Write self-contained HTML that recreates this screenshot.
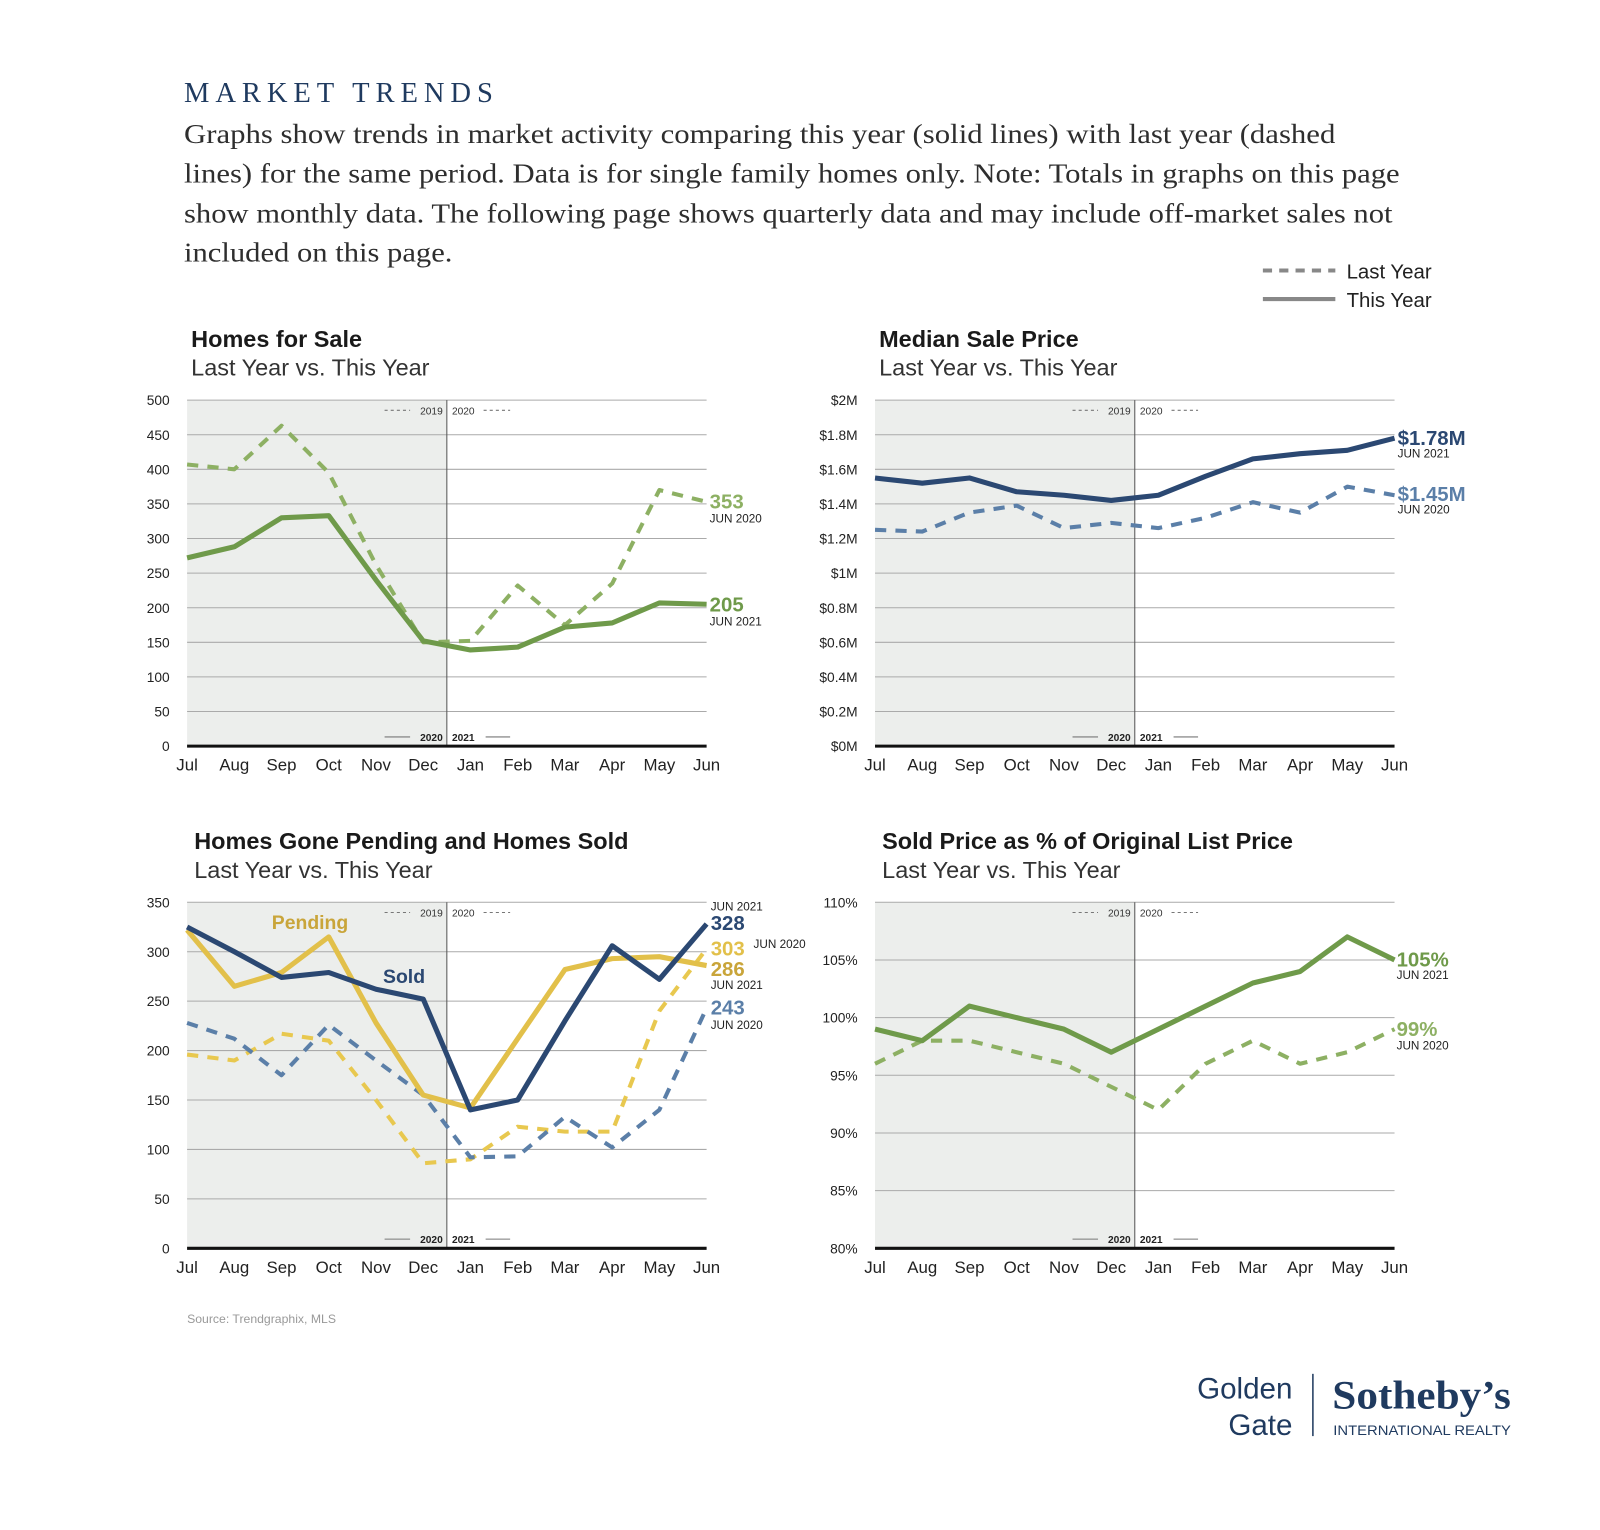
<!DOCTYPE html>
<html><head><meta charset="utf-8">
<style>
html,body{margin:0;padding:0;background:#fff;}
svg{display:block;}
text{font-family:"Liberation Sans",sans-serif;}
.serif{font-family:"Liberation Serif",serif;}
</style></head>
<body>
<svg id="s" width="1600" height="1530" viewBox="0 0 1567 1499" xmlns="http://www.w3.org/2000/svg">
<rect width="1567" height="1499" fill="#fff"/>
<text class="serif" x="180" y="100" font-size="28" fill="#1f3a5f" letter-spacing="5.8">MARKET TRENDS</text>
<g class="serif" font-size="26.5" fill="#2e2e2e">
<text class="serif" x="180" y="140" textLength="1128" lengthAdjust="spacingAndGlyphs">Graphs show trends in market activity comparing this year (solid lines) with last year (dashed</text>
<text class="serif" x="180" y="179" textLength="1191" lengthAdjust="spacingAndGlyphs">lines) for the same period. Data is for single family homes only. Note: Totals in graphs on this page</text>
<text class="serif" x="180" y="218" textLength="1184" lengthAdjust="spacingAndGlyphs">show monthly data. The following page shows quarterly data and may include off-market sales not</text>
<text class="serif" x="180" y="256" textLength="263" lengthAdjust="spacingAndGlyphs">included on this page.</text>
</g>
<line x1="1237" y1="265" x2="1308" y2="265" stroke="#888" stroke-width="4" stroke-dasharray="9,7"/>
<line x1="1237" y1="293" x2="1308" y2="293" stroke="#888" stroke-width="4"/>
<text x="1319" y="273" font-size="20" fill="#222">Last Year</text>
<text x="1319" y="301" font-size="20" fill="#222">This Year</text>
<g id="charts"></g>
<text x="183" y="1296" font-size="12" fill="#999">Source: Trendgraphix, MLS</text>
<text x="1266" y="1370" font-size="29" fill="#1f3a5f" text-anchor="end">Golden</text>
<text x="1266" y="1406" font-size="29" fill="#1f3a5f" text-anchor="end">Gate</text>
<line x1="1286" y1="1346" x2="1286" y2="1407" stroke="#1f3a5f" stroke-width="1.5"/>
<text class="serif" x="1305" y="1380" font-size="39" font-weight="bold" fill="#1f3a5f" textLength="175" lengthAdjust="spacingAndGlyphs">Sotheby’s</text>
<text x="1306" y="1406" font-size="13.5" fill="#1f3a5f" textLength="174" lengthAdjust="spacingAndGlyphs">INTERNATIONAL REALTY</text>
</svg>
<script>
var NS="http://www.w3.org/2000/svg",G=document.getElementById("charts");
function el(t,a,txt){var e=document.createElementNS(NS,t);for(var k in a)e.setAttribute(k,a[k]);if(txt!=null)e.textContent=txt;G.appendChild(e);return e;}
var months=["Jul","Aug","Sep","Oct","Nov","Dec","Jan","Feb","Mar","Apr","May","Jun"];
function chart(c){
 var L=c.x,R=c.x+509,T=c.y,B=c.y+339,dx=(R-L)/11,mid=L+5.5*dx;
 el("text",{x:c.tx,y:T-52,"font-size":23,"font-weight":"bold",fill:"#1a1a1a"},c.title);
 el("text",{x:c.tx,y:T-24,"font-size":23,fill:"#333"},"Last Year vs. This Year");
 el("rect",{x:L,y:T,width:mid-L,height:B-T,fill:"#eceeec"});
 var n=c.ticks.length-1;
 for(var i=0;i<=n;i++){var y=B-(B-T)*i/n;
  if(i>0)el("line",{x1:L,y1:y,x2:R,y2:y,stroke:"#aaa","stroke-width":1});
  el("text",{x:L-17,y:y+5,"font-size":13.5,fill:"#222","text-anchor":"end"},c.ticks[i]);}
 el("line",{x1:mid,y1:T,x2:mid,y2:B,stroke:"#555","stroke-width":1});
 el("line",{x1:L,y1:B,x2:R,y2:B,stroke:"#111","stroke-width":3});
 months.forEach(function(m,i){el("text",{x:L+i*dx,y:B+24,"font-size":16.5,fill:"#222","text-anchor":"middle"},m);});
 el("line",{x1:mid-61,y1:T+10,x2:mid-36,y2:T+10,stroke:"#777","stroke-dasharray":"3,3"});
 el("text",{x:mid-4,y:T+14,"font-size":10,fill:"#333","text-anchor":"end"},"2019");
 el("text",{x:mid+5,y:T+14,"font-size":10,fill:"#333"},"2020");
 el("line",{x1:mid+36,y1:T+10,x2:mid+62,y2:T+10,stroke:"#777","stroke-dasharray":"3,3"});
 el("line",{x1:mid-61,y1:B-9,x2:mid-36,y2:B-9,stroke:"#777"});
 el("text",{x:mid-4,y:B-5,"font-size":10,"font-weight":"bold",fill:"#222","text-anchor":"end"},"2020");
 el("text",{x:mid+5,y:B-5,"font-size":10,"font-weight":"bold",fill:"#222"},"2021");
 el("line",{x1:mid+38,y1:B-9,x2:mid+62,y2:B-9,stroke:"#777"});
 c.series.forEach(function(s){
  var pts=s.d.map(function(v,i){return (L+i*dx).toFixed(1)+","+(B-(v-c.min)/(c.max-c.min)*(B-T)).toFixed(1);}).join(" ");
  var a={points:pts,fill:"none",stroke:s.c,"stroke-width":s.dash?4:5,"stroke-linejoin":"round"};
  if(s.dash)a["stroke-dasharray"]="11,9";
  el("polyline",a);});
 (c.labels||[]).forEach(function(l){el("text",{x:l[0],y:l[1],"font-size":l[2],"font-weight":l[4]||"normal",fill:l[3]},l[5]);});
}
var gS="#6f9a4a",gD="#8db063",nS="#2b4872",nD="#5b7fa8",yS="#e2c04a",yD="#e8c84f";
chart({x:183,y:392,tx:187,title:"Homes for Sale",min:0,max:500,ticks:["0","50","100","150","200","250","300","350","400","450","500"],
 series:[{d:[407,400,463,395,262,150,152,232,175,235,370,353],c:gD,dash:1},{d:[272,288,330,333,240,152,139,143,172,178,207,205],c:gS}],
 labels:[[695,498,20,gD,"bold","353"],[695,512,11.5,"#222","normal","JUN 2020"],[695,599,20,gS,"bold","205"],[695,613,11.5,"#222","normal","JUN 2021"]]});
chart({x:857,y:392,tx:861,title:"Median Sale Price",min:0,max:2,ticks:["$0M","$0.2M","$0.4M","$0.6M","$0.8M","$1M","$1.2M","$1.4M","$1.6M","$1.8M","$2M"],
 series:[{d:[1.25,1.24,1.35,1.39,1.26,1.29,1.26,1.32,1.41,1.35,1.50,1.45],c:nD,dash:1},{d:[1.55,1.52,1.55,1.47,1.45,1.42,1.45,1.56,1.66,1.69,1.71,1.78],c:nS}],
 labels:[[1369,436,20,nS,"bold","$1.78M"],[1369,448,11.5,"#222","normal","JUN 2021"],[1369,491,20,nD,"bold","$1.45M"],[1369,503,11.5,"#222","normal","JUN 2020"]]});
chart({x:183,y:884,tx:190,title:"Homes Gone Pending and Homes Sold",min:0,max:350,ticks:["0","50","100","150","200","250","300","350"],
 series:[{d:[196,190,217,210,150,86,90,123,118,118,240,303],c:yD,dash:1},{d:[228,212,175,226,190,155,92,93,133,102,140,243],c:nD,dash:1},
 {d:[322,265,279,315,228,155,142,212,282,293,295,286],c:yS},{d:[325,300,274,279,262,252,140,150,230,306,272,328],c:nS}],
 labels:[[266,910,19,"#c9a53a","bold","Pending"],[375,963,19,nS,"bold","Sold"],
 [696,892,11.5,"#222","normal","JUN 2021"],[696,911,20,nS,"bold","328"],[696,936,20,yS,"bold","303"],[738,929,11.5,"#222","normal","JUN 2020"],
 [696,956,20,"#c9a53a","bold","286"],[696,969,11.5,"#222","normal","JUN 2021"],[696,994,20,nD,"bold","243"],[696,1008,11.5,"#222","normal","JUN 2020"]]});
chart({x:857,y:884,tx:864,title:"Sold Price as % of Original List Price",min:80,max:110,ticks:["80%","85%","90%","95%","100%","105%","110%"],
 series:[{d:[96,98,98,97,96,94,92,96,98,96,97,99],c:gD,dash:1},{d:[99,98,101,100,99,97,99,101,103,104,107,105],c:gS}],
 labels:[[1368,947,20,gS,"bold","105%"],[1368,959,11.5,"#222","normal","JUN 2021"],[1368,1015,20,gD,"bold","99%"],[1368,1028,11.5,"#222","normal","JUN 2020"]]});
</script>
</body></html>
